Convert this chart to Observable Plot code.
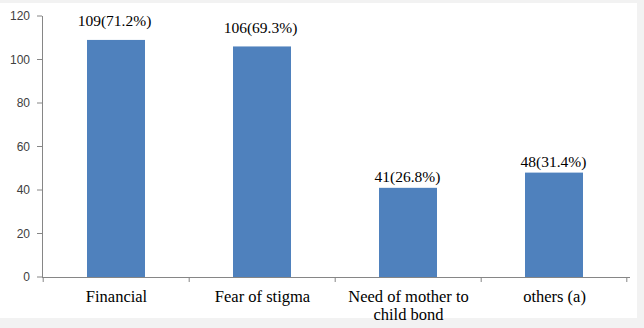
<!DOCTYPE html>
<html>
<head>
<meta charset="utf-8">
<script src="https://cdn.jsdelivr.net/npm/d3@7"></script>
<script src="https://cdn.jsdelivr.net/npm/@observablehq/plot@0.6"></script>
<style>
  html, body { margin: 0; padding: 0; background: #f2f2f2; }
  #wrap { position: relative; width: 644px; height: 328px; overflow: hidden; }
  #paper { position: absolute; left: 0; top: 3px; width: 637px; height: 315px; background: #ffffff; }
  #chart { position: absolute; left: 0; top: 0; }
  #chart svg { background: transparent; }
</style>
</head>
<body>
<div id="wrap"><div id="paper"></div><div id="chart"></div></div>
<script>
const categories = ["Financial", "Fear of stigma", "Need of mother to\nchild bond", "others (a)"];
const counts = [109, 106, 41, 48];
const labels = ["109(71.2%)", "106(69.3%)", "41(26.8%)", "48(31.4%)"];
const yTicks = [0, 20, 40, 60, 80, 100, 120];

const data = categories.map((c, i) => ({category: c, count: counts[i], label: labels[i]}));

const axisColor = "#868686";
const serif = "Liberation Serif, Times New Roman, serif";
const sans = "Liberation Sans, Arial, sans-serif";

// tick marks: band boundaries on x, value ticks on y
const axisTicks = (index, scales, values, dimensions) => {
  const g = d3.create("svg:g").attr("stroke", axisColor);
  const x = scales.x, y = scales.y;
  const half = x.step() * 0.6 / 2;
  const y0 = dimensions.height - dimensions.marginBottom;
  const x0 = dimensions.marginLeft;
  const xs = categories.map(c => x(c) - half);
  xs.push(x(categories[categories.length - 1]) + x.bandwidth() + half);
  for (const px of xs) {
    g.append("line").attr("x1", px).attr("x2", px).attr("y1", y0).attr("y2", y0 + 5);
  }
  for (const t of yTicks) {
    g.append("line").attr("x1", x0 - 5).attr("x2", x0).attr("y1", y(t)).attr("y2", y(t));
  }
  return g.node();
};

const chart = Plot.plot({
  width: 644,
  height: 328,
  marginLeft: 42,
  marginRight: 15,
  marginTop: 16,
  marginBottom: 51,
  style: {background: "transparent", overflow: "visible"},
  x: {type: "band", domain: categories, paddingInner: 0.6, paddingOuter: 0.3, align: 0.5, axis: null},
  y: {domain: [0, 120], axis: null},
  marks: [
    Plot.barY(data, {x: "category", y: "count", fill: "#4f81bd"}),
    Plot.frame({anchor: "left", stroke: axisColor}),
    Plot.frame({anchor: "bottom", stroke: axisColor}),
    axisTicks,
    Plot.text(yTicks, {y: d => d, text: d => String(d), frameAnchor: "left", textAnchor: "end", dx: -12.5,
      fontFamily: sans, fontSize: 12, fill: "#404040"}),
    Plot.text(data, {x: "category", text: "category", frameAnchor: "bottom", lineAnchor: "top", dy: 12.5,
      lineHeight: 1.05, fontFamily: serif, fontSize: 16.5, fill: "#000"}),
    Plot.text(data.filter((d, i) => i < 2), {x: "category", y: "count", text: "label", dy: -19, dx: -2,
      fontFamily: serif, fontSize: 15.5, fill: "#000"}),
    Plot.text(data.filter((d, i) => i >= 2), {x: "category", y: "count", text: "label", dy: -11, dx: -1,
      fontFamily: serif, fontSize: 15.5, fill: "#000"})
  ]
});
document.getElementById("chart").appendChild(chart);
</script>
</body>
</html>
